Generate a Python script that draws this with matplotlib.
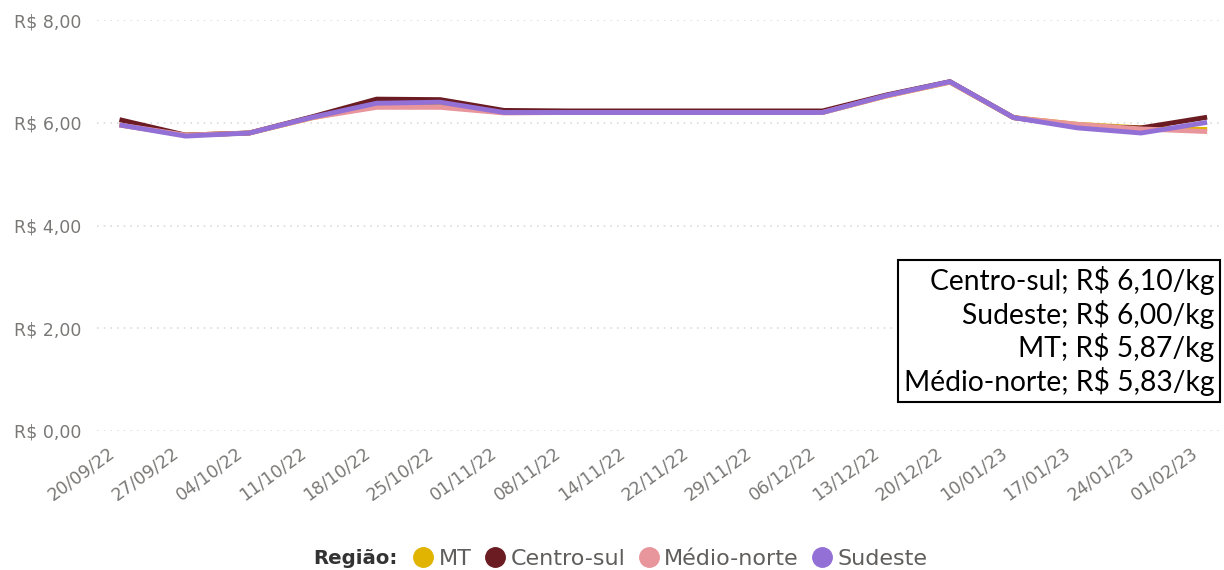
import matplotlib
matplotlib.use('Agg')
import matplotlib.pyplot as plt
import matplotlib.transforms as mtransforms
from matplotlib.lines import Line2D

plt.rcParams['font.family'] = ['DejaVu Sans']

datas = ['20/09/22', '27/09/22', '04/10/22', '11/10/22', '18/10/22', '25/10/22',
         '01/11/22', '08/11/22', '14/11/22', '22/11/22', '29/11/22', '06/12/22',
         '13/12/22', '20/12/22', '10/01/23', '17/01/23', '24/01/23', '01/02/23']

mt = [5.95, 5.76, 5.80, 6.10, 6.33, 6.33, 6.20, 6.20, 6.20, 6.20, 6.20, 6.20,
      6.52, 6.79, 6.10, 5.97, 5.90, 5.87]
centro_sul = [6.05, 5.76, 5.80, 6.12, 6.46, 6.45, 6.24, 6.23, 6.23, 6.23, 6.23, 6.23,
              6.54, 6.80, 6.10, 5.93, 5.90, 6.10]
medio_norte = [5.95, 5.76, 5.80, 6.10, 6.30, 6.30, 6.19, 6.20, 6.20, 6.20, 6.20, 6.20,
               6.52, 6.79, 6.10, 5.97, 5.88, 5.83]
sudeste = [5.95, 5.74, 5.80, 6.11, 6.38, 6.40, 6.20, 6.20, 6.20, 6.20, 6.20, 6.20,
           6.53, 6.80, 6.10, 5.90, 5.80, 6.00]

series = [('MT', mt, '#E0B400'),
          ('Centro-sul', centro_sul, '#6B1C22'),
          ('Médio-norte', medio_norte, '#E8959B'),
          ('Sudeste', sudeste, '#9370D6')]

yticks = [0, 2, 4, 6, 8]
ylabels = ['R$ 0,00', 'R$ 2,00', 'R$ 4,00', 'R$ 6,00', 'R$ 8,00']

W, H = 1224, 570
fig = plt.figure(figsize=(W / 100, H / 100), dpi=100)
ax = fig.add_axes([97 / W, 139 / H, 1123 / W, 411 / H])

x = list(range(len(datas)))
for nome, vals, cor in series:
    ax.plot(x, vals, color=cor, linewidth=3.5, clip_on=False, solid_joinstyle='round')

ax.set_xlim(-0.39, 17.24)
ax.set_ylim(0, 8)
ax.set_yticks(yticks)
ax.set_yticklabels(ylabels, color='#7A7876', fontsize=12.5)
ax.set_xticks(x)
ax.set_xticklabels(datas, rotation=36, ha='right', rotation_mode='anchor',
                   color='#7A7876', fontsize=12.5)
ax.tick_params(length=0, pad=9)
ax.tick_params(axis='y', pad=11)
# os rótulos do eixo x ficam um pouco à esquerda de cada ponto
shift = mtransforms.ScaledTranslation(-14 / 100, 0, fig.dpi_scale_trans)
for lbl in ax.get_xticklabels():
    lbl.set_transform(lbl.get_transform() + shift)
ax.grid(axis='y', color='#DCDCDC', linestyle=(0, (1, 3)), linewidth=1.2)
ax.set_axisbelow(True)
for s in ax.spines.values():
    s.set_visible(False)

fig.text(1214 / W, 1 - 331 / H,
         'Centro-sul; R$ 6,10/kg\nSudeste; R$ 6,00/kg\nMT; R$ 5,87/kg\nMédio-norte; R$ 5,83/kg',
         ha='right', va='center', multialignment='right', fontsize=20.3,
         family='Lato', linespacing=1.2,
         bbox=dict(boxstyle='square,pad=0.2', facecolor='white', edgecolor='black', linewidth=1.5))

handles = [Line2D([], [], marker='o', linestyle='', markersize=14, color=c) for _, _, c in series]
fig.text(313 / W, 1 - 559 / H, 'Região:', fontsize=14.2, fontweight='bold',
         color='#333333', va='center')
fig.legend(handles, [n for n, _, _ in series], loc='center left',
           bbox_to_anchor=(411 / W, 1 - 559 / H), ncol=4, frameon=False,
           fontsize=16, handletextpad=0.15, columnspacing=0.5, labelcolor='#605E5C',
           borderaxespad=0, borderpad=0, handlelength=1.1)

fig.savefig('out.png', dpi=100)
